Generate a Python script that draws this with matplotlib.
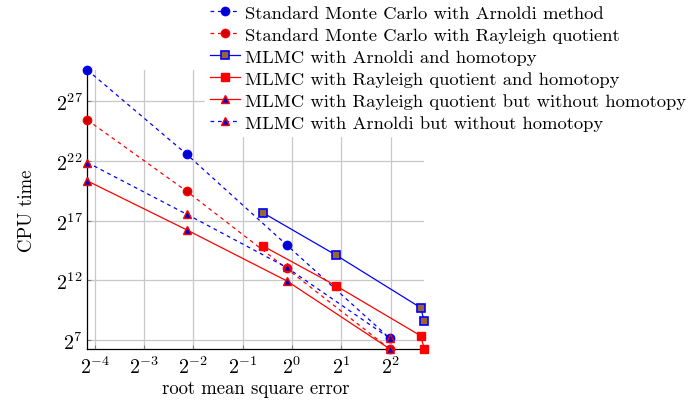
import numpy as np
import matplotlib
matplotlib.use('Agg')
import matplotlib.pyplot as plt

plt.rcParams['font.family'] = 'serif'
plt.rcParams['font.serif'] = ['cmr10']
plt.rcParams['mathtext.fontset'] = 'cm'
plt.rcParams['axes.formatter.use_mathtext'] = True

# root mean square error (x) and CPU time (y)
rmse_mc = [0.0562, 0.227, 0.925, 3.95]
rmse_mlmc_h = [0.660, 1.853, 6.09, 6.41]

cpu_mc_arnoldi = [8.37e8, 6.27e6, 32300, 141]
cpu_mc_rayleigh = [4.58e7, 7.31e5, 8190, 76.1]
cpu_mlmc_arnoldi_h = [2.11e5, 17800, 838, 379]
cpu_mlmc_rayleigh_h = [30600, 3000, 164, 76.1]
cpu_mlmc_rayleigh_noh = [1.33e6, 77400, 4010, 76.1]
cpu_mlmc_arnoldi_noh = [3.86e6, 1.92e5, 8720, 141]

labels = ['Standard Monte Carlo with Arnoldi method',
          'Standard Monte Carlo with Rayleigh quotient',
          'MLMC with Arnoldi and homotopy',
          'MLMC with Rayleigh quotient and homotopy',
          'MLMC with Rayleigh quotient but without homotopy',
          'MLMC with Arnoldi but without homotopy']

blue = '#0000ff'
red = '#ff0000'

fig = plt.figure(figsize=(6.99, 4.02), dpi=100)
ax = fig.add_axes([0.1249, 0.1294, 0.4821, 0.694])

lw = 0.9
common = dict(lw=lw, clip_on=False)
ax.plot(rmse_mc, cpu_mc_arnoldi, color=blue, dashes=(3, 3), marker='o',
        ms=6, mfc='#0000cc', mec=blue, label=labels[0], zorder=3, **common)
ax.plot(rmse_mc, cpu_mc_rayleigh, color=red, dashes=(3, 3), marker='o',
        ms=6, mfc='#cc0000', mec=red, label=labels[1], zorder=3, **common)
ax.plot(rmse_mlmc_h, cpu_mlmc_arnoldi_h, color=blue, marker='s',
        ms=6, mfc='#996633', mec=blue, mew=1.2, label=labels[2], zorder=3, **common)
ax.plot(rmse_mlmc_h, cpu_mlmc_rayleigh_h, color=red, marker='s',
        ms=6, mfc=red, mec=red, label=labels[3], zorder=3, **common)
ax.plot(rmse_mc, cpu_mlmc_rayleigh_noh, color=red, marker='^',
        ms=5.5, mfc='#0000cc', mec=red, label=labels[4], zorder=4, **common)
ax.plot(rmse_mc, cpu_mlmc_arnoldi_noh, color=blue, dashes=(3, 3), marker='^',
        ms=5.5, mfc='#0000cc', mec=red, label=labels[5], zorder=4, **common)

ax.set_xscale('log', base=2)
ax.set_yscale('log', base=2)
ax.set_xlim(min(rmse_mc), max(rmse_mlmc_h))
ax.set_ylim(min(cpu_mc_rayleigh), max(cpu_mc_arnoldi))

ax.set_xticks([2.0 ** k for k in range(-4, 3)])
ax.set_xticklabels(['$2^{%d}$' % k for k in range(-4, 3)])
ax.set_yticks([2.0 ** k for k in range(7, 28, 5)])
ax.set_yticklabels(['$2^{%d}$' % k for k in range(7, 28, 5)])
ax.minorticks_off()
ax.tick_params(labelsize=14.5, direction='in', length=3, color='#808080', width=0.8)
ax.tick_params(axis='x', pad=5)

ax.grid(True, color='#c8c8c8', lw=0.9)
ax.set_axisbelow(True)
for side in ['top', 'right']:
    ax.spines[side].set_visible(False)
for side in ['left', 'bottom']:
    ax.spines[side].set_linewidth(0.9)

ax.set_xlabel('root mean square error', fontsize=13.5, labelpad=1)
ax.set_ylabel('CPU time', fontsize=13.5, labelpad=14)

leg = fig.legend(loc='upper left', bbox_to_anchor=(0.293, 1.0), fontsize=13.4,
                 frameon=True, fancybox=False, edgecolor='white', facecolor='white',
                 framealpha=1, handlelength=1.6, handletextpad=0.25, labelspacing=0.32,
                 borderpad=0.3, borderaxespad=0)

fig.savefig('out.png', dpi=100)
